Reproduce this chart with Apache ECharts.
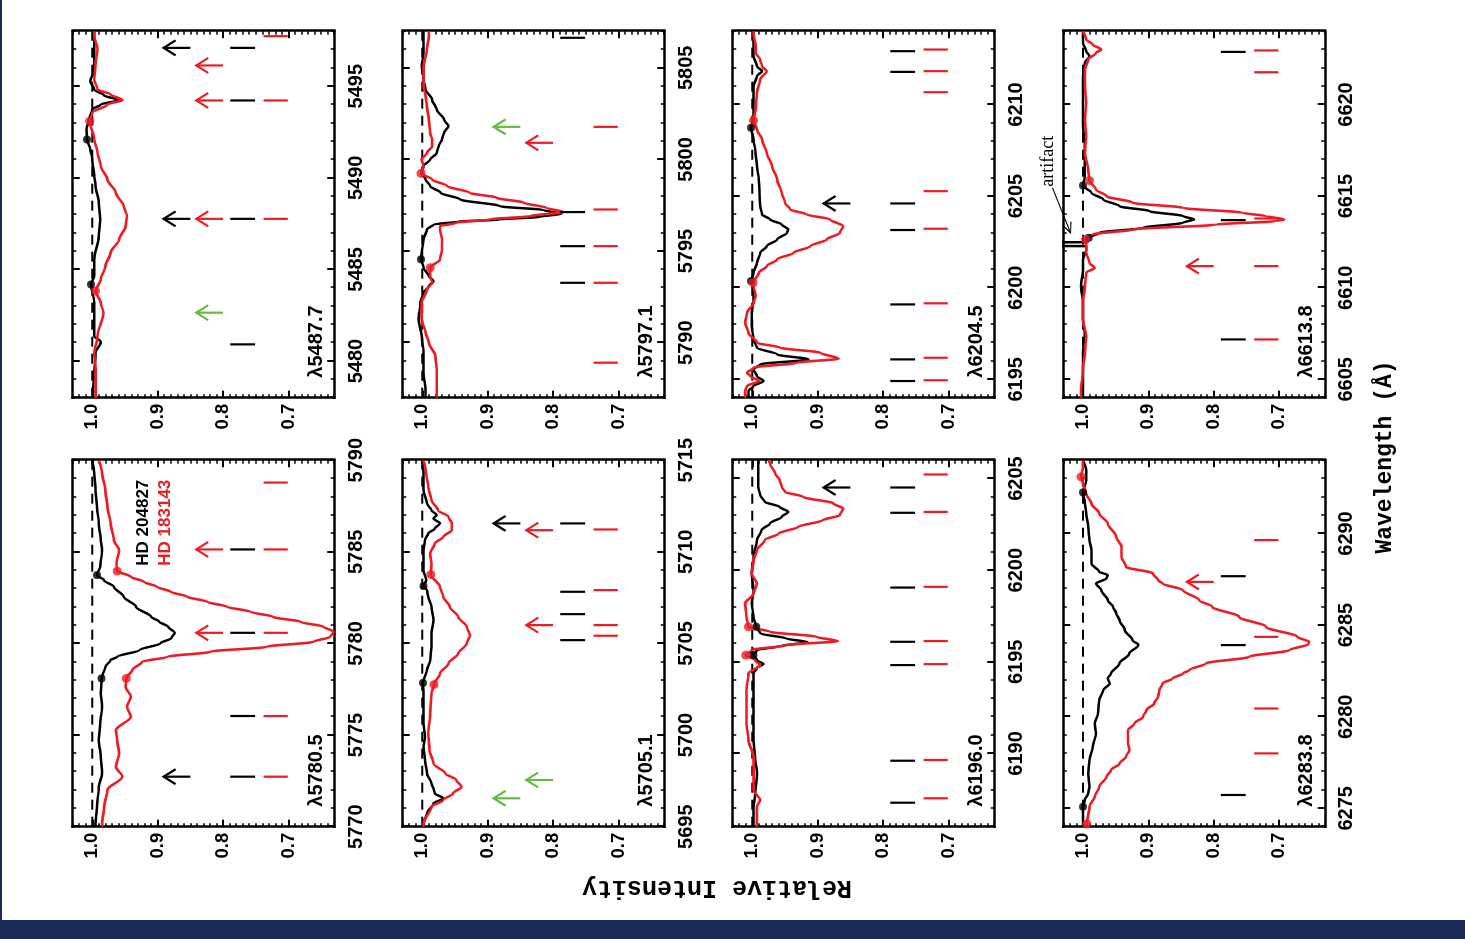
<!DOCTYPE html>
<html>
<head>
<meta charset="utf-8">
<script src="https://cdn.jsdelivr.net/npm/echarts@6/dist/echarts.min.js"></script>
<style>
  html, body { margin: 0; padding: 0; width: 1465px; height: 939px; overflow: hidden; background: #1b2a56; }
  #sheet { position: absolute; left: 2px; top: 0; width: 1463px; height: 920px; background: #fff; }
  /* the figure is laid out portrait and turned a quarter turn counter-clockwise */
  #chart { position: absolute; left: 0; top: 0; width: 920px; height: 1465px;
           transform-origin: 0 0; transform: translateY(920px) rotate(-90deg); }
</style>
</head>
<body>
<div id="sheet"></div>
<div id="chart"></div>
<script>
// ---------------- data ----------------
const STAR_A = 'HD 204827';
const STAR_B = 'HD 183143';
const CONTINUUM = 1.0;
const intensityRange = [0.63, 1.03];
const intensityTicks = [0.7, 0.8, 0.9, 1.0];

// λ5780.5
const range5780 = [5770, 5790];
const ticks5780 = [5770, 5775, 5780, 5785, 5790];
const spec5780Black = [[5770.0,0.995],[5770.18,0.995],[5771.09,0.993],[5772.18,0.990],[5772.91,0.985],[5773.82,0.987],[5774.73,0.990],[5775.64,0.988],[5776.55,0.985],[5777.27,0.987],[5778.09,0.986],[5778.73,0.980],[5779.09,0.972],[5779.27,0.962],[5779.64,0.928],[5780.0,0.896],[5780.3,0.879],[5780.58,0.874],[5780.91,0.884],[5781.2,0.898],[5781.45,0.910],[5782.0,0.933],[5782.55,0.952],[5783.09,0.967],[5783.45,0.982],[5783.73,0.993],[5784.18,0.988],[5785.09,0.985],[5785.64,0.987],[5786.55,0.990],[5787.45,0.993],[5788.36,0.995],[5789.27,0.997],[5790.0,1.000]];
const spec5780Red = [[5770.0,0.985],[5770.18,0.985],[5771.09,0.982],[5772.0,0.977],[5772.73,0.954],[5773.27,0.964],[5774.0,0.959],[5774.73,0.962],[5775.27,0.964],[5776.0,0.941],[5776.55,0.947],[5777.09,0.941],[5777.64,0.949],[5778.09,0.948],[5778.55,0.939],[5779.0,0.924],[5779.27,0.885],[5779.55,0.819],[5779.82,0.733],[5780.09,0.662],[5780.36,0.636],[5780.64,0.631],[5780.91,0.646],[5781.18,0.682],[5781.45,0.723],[5781.73,0.758],[5782.0,0.794],[5782.27,0.824],[5782.55,0.855],[5782.82,0.880],[5783.09,0.901],[5783.36,0.921],[5783.64,0.941],[5783.95,0.962],[5784.36,0.963],[5785.09,0.959],[5785.64,0.967],[5786.55,0.972],[5787.45,0.977],[5788.36,0.980],[5789.27,0.985],[5790.0,0.990]];
const dots5780Black = [[5778.09,0.986],[5783.73,0.993]];
const dots5780Red = [[5778.09,0.948],[5783.95,0.962]];
const lines5780Black = [5772.73, 5776.04, 5780.58, 5785.13];
const lines5780Red = [5772.73, 5776.04, 5780.58, 5785.13, 5788.78];
const arrows5780Black = [[5772.73,0.891]];
const arrows5780Red = [[5780.58,0.841],[5785.13,0.841]];
const arrows5780Green = [];

// λ5487.7
const range5487 = [5478, 5498];
const ticks5487 = [5480, 5485, 5490, 5495];
const spec5487Black = [[5478.0,0.999],[5478.45,0.999],[5479.36,0.997],[5480.45,0.995],[5481.04,0.987],[5481.36,0.997],[5482.27,0.997],[5483.18,0.997],[5484.18,1.002],[5484.64,0.997],[5485.55,0.997],[5486.82,0.990],[5487.73,0.988],[5488.64,0.990],[5489.55,0.995],[5490.09,0.997],[5491.0,1.000],[5491.55,1.003],[5492.09,1.008],[5492.64,1.009],[5493.18,1.005],[5493.73,1.000],[5494.0,0.987],[5494.24,0.959],[5494.49,0.982],[5494.82,0.997],[5495.27,1.003],[5495.91,0.997],[5496.82,0.997],[5497.82,0.997],[5498.0,0.997]];
const spec5487Red = [[5478.0,0.995],[5478.45,0.995],[5479.55,0.995],[5480.45,0.997],[5481.36,0.992],[5482.64,0.983],[5483.18,0.987],[5483.82,0.995],[5484.45,0.987],[5485.18,0.980],[5485.91,0.972],[5486.64,0.959],[5487.36,0.949],[5487.91,0.947],[5488.45,0.952],[5489.18,0.964],[5489.91,0.977],[5490.64,0.987],[5491.36,0.992],[5492.09,0.997],[5493.09,1.004],[5493.55,1.000],[5494.0,0.977],[5494.24,0.954],[5494.55,0.972],[5494.82,0.992],[5495.36,0.997],[5496.27,0.995],[5497.0,0.992],[5497.73,0.997],[5498.0,0.997]];
const dots5487Black = [[5484.18,1.002],[5492.09,1.008]];
const dots5487Red = [[5483.82,0.995],[5493.09,1.004]];
const lines5487Black = [5480.91, 5487.76, 5494.22, 5497.09];
const lines5487Red = [5487.76, 5494.22, 5497.73];
const arrows5487Black = [[5487.76,0.891],[5497.09,0.891]];
const arrows5487Red = [[5487.76,0.841],[5494.22,0.841],[5496.13,0.841]];
const arrows5487Green = [[5482.64,0.841]];

// λ5705.1
const range5705 = [5695, 5715];
const ticks5705 = [5695, 5700, 5705, 5710, 5715];
const spec5705Black = [[5695.0,0.999],[5695.18,0.998],[5695.73,0.993],[5696.27,0.983],[5696.55,0.968],[5696.82,0.981],[5697.09,0.983],[5697.36,0.986],[5697.91,0.993],[5698.64,0.996],[5699.36,0.998],[5699.91,0.996],[5700.64,0.998],[5701.55,0.998],[5702.27,0.998],[5702.85,0.999],[5703.55,0.993],[5704.09,0.988],[5704.82,0.986],[5705.55,0.986],[5706.27,0.983],[5707.0,0.986],[5707.55,0.991],[5707.91,0.993],[5708.13,0.998],[5708.45,0.994],[5709.0,0.998],[5710.09,0.998],[5710.64,0.996],[5711.0,0.991],[5711.27,0.981],[5711.55,0.973],[5711.82,0.983],[5712.0,0.978],[5712.27,0.986],[5712.64,0.993],[5713.36,0.998],[5714.27,0.998],[5715.0,1.000]];
const spec5705Red = [[5695.0,0.999],[5695.18,0.998],[5696.09,0.986],[5696.45,0.968],[5696.82,0.953],[5697.18,0.940],[5697.55,0.948],[5697.91,0.965],[5698.45,0.983],[5699.18,0.989],[5700.09,0.991],[5701.18,0.988],[5702.27,0.986],[5702.76,0.982],[5703.36,0.973],[5703.91,0.960],[5704.45,0.945],[5705.0,0.932],[5705.45,0.927],[5705.91,0.932],[5706.45,0.945],[5707.0,0.958],[5707.55,0.968],[5708.09,0.973],[5708.76,0.987],[5709.36,0.986],[5709.91,0.988],[5710.45,0.981],[5710.82,0.968],[5711.18,0.955],[5711.55,0.955],[5711.91,0.960],[5712.27,0.976],[5712.82,0.986],[5713.55,0.991],[5714.27,0.994],[5715.0,0.998]];
const dots5705Black = [[5702.85,0.999],[5708.13,0.998]];
const dots5705Red = [[5702.76,0.982],[5708.76,0.987]];
const lines5705Black = [5705.18, 5706.6, 5707.82, 5711.55];
const lines5705Red = [5705.42, 5706.0, 5707.91, 5711.22];
const arrows5705Black = [[5711.55,0.891]];
const arrows5705Red = [[5706.0,0.841],[5711.18,0.841]];
const arrows5705Green = [[5696.55,0.891],[5697.55,0.841]];

// λ5797.1
const range5797 = [5787, 5807];
const ticks5797 = [5790, 5795, 5800, 5805];
const spec5797Black = [[5787.0,0.995],[5787.45,0.995],[5788.36,0.998],[5789.45,0.998],[5790.36,1.001],[5791.27,1.006],[5792.18,1.003],[5792.73,0.998],[5793.09,0.990],[5793.36,0.983],[5793.64,0.990],[5794.09,0.998],[5794.55,1.002],[5794.91,1.001],[5795.64,0.998],[5796.18,0.993],[5796.45,0.983],[5796.6,0.947],[5796.73,0.881],[5796.87,0.820],[5797.04,0.787],[5797.24,0.815],[5797.45,0.881],[5797.82,0.942],[5798.18,0.972],[5798.55,0.988],[5798.91,0.995],[5799.27,1.002],[5799.64,0.998],[5800.0,0.988],[5800.36,0.978],[5800.73,0.975],[5801.09,0.970],[5801.45,0.967],[5801.82,0.960],[5802.18,0.967],[5802.73,0.978],[5803.27,0.985],[5803.82,0.995],[5804.36,0.998],[5805.09,1.001],[5805.82,0.998],[5806.73,0.998],[5807.0,0.998]];
const spec5797Red = [[5787.0,0.978],[5787.45,0.978],[5788.55,0.978],[5789.27,0.980],[5790.0,0.990],[5790.55,0.995],[5791.27,1.001],[5792.18,1.001],[5792.91,0.993],[5793.27,0.985],[5793.64,0.988],[5794.09,0.988],[5794.55,0.973],[5795.09,0.970],[5795.64,0.970],[5796.18,0.973],[5796.36,0.973],[5796.55,0.947],[5796.73,0.896],[5796.91,0.835],[5797.13,0.784],[5797.36,0.810],[5797.64,0.845],[5797.91,0.886],[5798.18,0.927],[5798.55,0.962],[5798.91,0.985],[5799.24,1.002],[5799.64,0.998],[5800.0,1.001],[5800.36,0.993],[5800.73,0.985],[5801.09,0.985],[5801.45,0.988],[5802.18,0.990],[5802.91,0.993],[5803.45,0.995],[5804.0,0.998],[5805.09,0.998],[5806.0,0.993],[5806.73,0.990],[5807.0,0.990]];
const dots5797Black = [[5794.55,1.002]];
const dots5797Red = [[5794.09,0.988],[5799.24,1.002]];
const lines5797Black = [5793.27, 5795.27, 5797.13, 5806.64];
const lines5797Red = [5788.91, 5793.27, 5795.27, 5797.27, 5801.78];
const arrows5797Black = [];
const arrows5797Red = [[5800.91,0.841]];
const arrows5797Green = [[5801.78,0.891]];

// λ6196.0
const range6196 = [6186, 6206];
const ticks6196 = [6190, 6195, 6200, 6205];
const spec6196Black = [[6186.0,0.998],[6186.36,0.998],[6187.09,0.998],[6187.64,0.996],[6188.91,0.993],[6189.82,0.996],[6190.73,0.998],[6191.64,0.998],[6192.55,0.998],[6193.45,0.998],[6194.36,0.998],[6194.67,0.993],[6194.87,0.983],[6195.09,0.993],[6195.36,0.998],[6195.64,0.993],[6195.85,0.958],[6196.07,0.915],[6196.27,0.948],[6196.55,0.988],[6196.91,0.994],[6197.45,0.998],[6198.18,1.001],[6198.91,0.998],[6199.82,1.001],[6200.73,0.998],[6201.64,0.993],[6202.18,0.986],[6202.55,0.973],[6202.91,0.955],[6203.18,0.945],[6203.45,0.958],[6203.73,0.981],[6204.09,0.988],[6204.55,0.991],[6205.09,0.991],[6205.82,0.991],[6206.0,0.991]];
const spec6196Red = [[6186.0,0.993],[6186.36,0.993],[6187.09,0.993],[6187.45,0.988],[6188.0,0.998],[6188.91,0.998],[6189.82,0.998],[6190.73,1.006],[6191.64,1.009],[6192.55,1.009],[6193.45,1.009],[6194.36,1.006],[6194.82,0.988],[6195.09,0.996],[6195.36,1.010],[6195.64,1.001],[6195.91,0.948],[6196.13,0.869],[6196.36,0.902],[6196.64,0.973],[6196.91,1.006],[6197.45,1.009],[6198.18,1.011],[6198.73,0.998],[6199.27,0.993],[6199.82,1.001],[6200.55,0.998],[6201.09,0.993],[6201.64,0.981],[6202.0,0.960],[6202.36,0.930],[6202.73,0.892],[6203.0,0.866],[6203.36,0.861],[6203.64,0.876],[6204.0,0.922],[6204.27,0.950],[6204.55,0.955],[6204.91,0.958],[6205.27,0.965],[6205.82,0.973],[6206.0,0.975]];
const dots6196Black = [[6195.36,0.998],[6196.91,0.994]];
const dots6196Red = [[6195.36,1.010],[6196.91,1.006]];
const lines6196Black = [6187.31, 6189.6, 6194.82, 6196.09, 6199.05, 6203.13, 6204.51];
const lines6196Red = [6187.55, 6189.64, 6194.87, 6196.13, 6199.09, 6203.18, 6205.22];
const arrows6196Black = [[6204.51,0.891]];
const arrows6196Red = [];
const arrows6196Green = [];

// λ6204.5
const range6204 = [6194, 6214];
const ticks6204 = [6195, 6200, 6205, 6210];
const spec6204Black = [[6194.0,1.006],[6194.36,1.006],[6194.64,0.998],[6194.91,0.983],[6195.18,0.993],[6195.55,0.998],[6195.82,0.988],[6196.09,0.914],[6196.36,0.962],[6196.73,0.993],[6197.18,0.998],[6197.91,1.001],[6198.64,1.001],[6199.36,0.998],[6200.09,0.998],[6200.36,1.002],[6200.82,0.998],[6201.36,0.993],[6201.91,0.988],[6202.27,0.978],[6202.64,0.962],[6203.0,0.947],[6203.18,0.945],[6203.45,0.955],[6203.73,0.973],[6204.0,0.985],[6204.45,0.988],[6205.18,0.989],[6205.91,0.990],[6206.64,0.993],[6207.36,0.995],[6208.09,0.998],[6208.73,1.002],[6209.18,0.998],[6210.09,0.998],[6211.0,0.998],[6211.55,0.993],[6211.82,0.985],[6212.09,0.993],[6212.64,0.998],[6213.18,0.998],[6213.82,0.998],[6214.0,0.998]];
const spec6204Red = [[6194.0,1.011],[6194.36,1.011],[6194.64,1.008],[6194.91,0.990],[6195.18,1.003],[6195.36,1.008],[6195.64,0.998],[6195.91,0.932],[6196.13,0.868],[6196.45,0.896],[6196.73,0.957],[6197.0,0.993],[6197.55,1.006],[6198.09,1.011],[6198.64,1.008],[6199.18,0.998],[6199.55,0.995],[6200.27,0.999],[6200.82,0.990],[6201.18,0.978],[6201.55,0.962],[6201.91,0.937],[6202.27,0.911],[6202.64,0.886],[6203.0,0.866],[6203.36,0.861],[6203.73,0.881],[6204.0,0.917],[6204.27,0.942],[6204.64,0.950],[6205.18,0.955],[6205.91,0.962],[6206.64,0.970],[6207.36,0.978],[6208.09,0.985],[6208.64,0.993],[6209.13,0.998],[6209.73,0.995],[6210.64,0.993],[6211.36,0.988],[6211.82,0.978],[6212.09,0.985],[6212.45,0.988],[6212.82,0.995],[6213.27,0.995],[6213.82,0.998],[6214.0,0.998]];
const dots6204Black = [[6200.36,1.002],[6208.73,1.002]];
const dots6204Red = [[6200.27,0.999],[6209.13,0.998]];
const lines6204Black = [6194.91, 6196.09, 6199.09, 6203.15, 6204.6, 6211.78, 6212.91];
const lines6204Red = [6194.95, 6196.18, 6199.15, 6203.22, 6205.27, 6210.67, 6211.82, 6213.0];
const arrows6204Black = [[6204.6,0.891]];
const arrows6204Red = [];
const arrows6204Green = [];

// λ6283.8
const range6283 = [6274, 6294];
const ticks6283 = [6275, 6280, 6285, 6290];
const spec6283Black = [[6274.0,1.000],[6274.18,1.000],[6275.09,1.000],[6275.45,0.997],[6275.82,0.992],[6276.18,0.990],[6276.91,0.992],[6277.64,0.990],[6278.36,0.985],[6279.09,0.980],[6279.64,0.982],[6280.18,0.977],[6280.91,0.975],[6281.45,0.969],[6281.82,0.959],[6282.09,0.962],[6282.36,0.957],[6282.91,0.944],[6283.45,0.929],[6283.91,0.915],[6284.18,0.924],[6284.73,0.936],[6285.27,0.944],[6285.64,0.949],[6286.0,0.954],[6286.36,0.962],[6286.91,0.972],[6287.27,0.980],[6287.55,0.964],[6287.73,0.962],[6287.91,0.975],[6288.36,0.987],[6289.09,0.987],[6289.64,0.990],[6290.36,0.992],[6291.09,0.995],[6291.73,0.997],[6292.24,1.000],[6292.91,0.995],[6293.45,0.995],[6294.0,1.000]];
const spec6283Red = [[6274.0,0.994],[6274.15,0.994],[6275.09,0.990],[6275.64,0.982],[6276.18,0.975],[6276.73,0.964],[6277.09,0.957],[6277.45,0.944],[6277.82,0.934],[6278.18,0.929],[6278.55,0.931],[6278.91,0.931],[6279.27,0.931],[6279.64,0.921],[6280.0,0.908],[6280.36,0.903],[6280.73,0.891],[6281.09,0.885],[6281.45,0.883],[6281.82,0.878],[6282.09,0.863],[6282.36,0.847],[6282.55,0.837],[6282.91,0.812],[6283.27,0.746],[6283.64,0.684],[6283.96,0.655],[6284.09,0.654],[6284.36,0.672],[6284.91,0.720],[6285.45,0.761],[6286.0,0.802],[6286.36,0.822],[6286.91,0.847],[6287.27,0.878],[6287.45,0.885],[6287.82,0.893],[6288.18,0.934],[6288.73,0.941],[6289.27,0.941],[6289.82,0.949],[6290.55,0.962],[6291.09,0.975],[6291.64,0.987],[6292.18,0.995],[6292.73,1.000],[6293.09,1.003],[6293.64,1.000],[6294.0,1.000]];
const dots6283Black = [[6275.09,1.000],[6292.24,1.000]];
const dots6283Red = [[6274.15,0.994],[6293.09,1.003]];
const lines6283Black = [6275.73, 6283.91, 6287.67];
const lines6283Red = [6278.0, 6280.45, 6284.36, 6289.64];
const arrows6283Black = [];
const arrows6283Red = [[6287.36,0.841]];
const arrows6283Green = [];

// λ6613.8 (the spike near 6612.4 Å is a reduction artifact)
const range6613 = [6604, 6624];
const ticks6613 = [6605, 6610, 6615, 6620];
const spec6613Black = [[6604.0,1.000],[6604.36,1.000],[6605.55,1.000],[6606.45,1.000],[6607.36,0.997],[6608.27,1.000],[6609.18,1.000],[6610.09,1.003],[6611.0,1.000],[6611.55,1.000],[6612.09,0.995],[6612.27,0.995],[6612.29,1.100],[6612.47,1.100],[6612.49,0.993],[6612.73,0.991],[6613.0,0.975],[6613.27,0.908],[6613.55,0.847],[6613.73,0.830],[6613.91,0.847],[6614.18,0.898],[6614.45,0.944],[6614.82,0.969],[6615.18,0.987],[6615.58,1.000],[6616.09,0.997],[6617.0,0.997],[6617.91,0.997],[6618.82,1.000],[6619.73,1.000],[6620.64,1.000],[6621.55,1.000],[6622.27,0.997],[6622.64,0.990],[6622.91,0.995],[6623.36,1.000],[6624.0,1.000]];
const spec6613Red = [[6604.0,1.003],[6604.36,1.003],[6605.55,1.000],[6606.45,0.997],[6607.36,0.995],[6608.27,1.000],[6609.18,1.000],[6610.09,0.997],[6610.82,0.995],[6611.09,0.982],[6611.36,0.990],[6611.91,0.995],[6612.27,0.995],[6612.64,0.996],[6612.91,0.985],[6613.18,0.924],[6613.45,0.796],[6613.64,0.705],[6613.73,0.692],[6613.91,0.720],[6614.09,0.756],[6614.36,0.847],[6614.64,0.924],[6615.0,0.964],[6615.36,0.980],[6615.85,0.990],[6616.45,0.992],[6617.36,0.997],[6618.27,0.995],[6619.18,0.997],[6620.09,0.995],[6621.0,0.997],[6621.91,0.997],[6622.45,0.992],[6622.82,0.980],[6623.0,0.972],[6623.27,0.985],[6623.55,0.995],[6624.0,1.000]];
const dots6613Black = [[6612.73,0.991],[6615.58,1.000]];
const dots6613Red = [[6612.64,0.996],[6615.85,0.990]];
const lines6613Black = [6607.18, 6613.69, 6622.87];
const lines6613Red = [6607.18, 6611.18, 6613.78, 6621.76, 6622.95];
const arrows6613Black = [];
const arrows6613Red = [[6611.18,0.841]];
const arrows6613Green = [];
const artifactTip = [6613.0, 1.019];

// ---------------- layout & style ----------------
const COL_LEFT = [93.3, 522.3];
const COL_WIDTH = 366.5;
const ROW_TOP = [72.7, 402.7, 732.7, 1063.3];
const ROW_HEIGHT = 261.5;
const BLACK = '#000000';
const RED = '#ec1c24';
const GREEN = '#66bb44';
const TICK_ROW_BLACK = [0.751, 0.789];
const TICK_ROW_RED = [0.701, 0.738];
const ARROW_LEN = 0.041;
const LABEL_FONT = "'Liberation Sans', Arial, sans-serif";
const TITLE_FONT = "'Liberation Mono', 'DejaVu Sans Mono', monospace";

const panels = [
  { name: 'λ5780.5', col: 0, row: 0, range: range5780, ticks: ticks5780, black: spec5780Black, red: spec5780Red,
    dotsBlack: dots5780Black, dotsRed: dots5780Red, linesBlack: lines5780Black, linesRed: lines5780Red,
    arrowsBlack: arrows5780Black, arrowsRed: arrows5780Red, arrowsGreen: arrows5780Green },
  { name: 'λ5487.7', col: 1, row: 0, range: range5487, ticks: ticks5487, black: spec5487Black, red: spec5487Red,
    dotsBlack: dots5487Black, dotsRed: dots5487Red, linesBlack: lines5487Black, linesRed: lines5487Red,
    arrowsBlack: arrows5487Black, arrowsRed: arrows5487Red, arrowsGreen: arrows5487Green },
  { name: 'λ5705.1', col: 0, row: 1, range: range5705, ticks: ticks5705, black: spec5705Black, red: spec5705Red,
    dotsBlack: dots5705Black, dotsRed: dots5705Red, linesBlack: lines5705Black, linesRed: lines5705Red,
    arrowsBlack: arrows5705Black, arrowsRed: arrows5705Red, arrowsGreen: arrows5705Green },
  { name: 'λ5797.1', col: 1, row: 1, range: range5797, ticks: ticks5797, black: spec5797Black, red: spec5797Red,
    dotsBlack: dots5797Black, dotsRed: dots5797Red, linesBlack: lines5797Black, linesRed: lines5797Red,
    arrowsBlack: arrows5797Black, arrowsRed: arrows5797Red, arrowsGreen: arrows5797Green },
  { name: 'λ6196.0', col: 0, row: 2, range: range6196, ticks: ticks6196, black: spec6196Black, red: spec6196Red,
    dotsBlack: dots6196Black, dotsRed: dots6196Red, linesBlack: lines6196Black, linesRed: lines6196Red,
    arrowsBlack: arrows6196Black, arrowsRed: arrows6196Red, arrowsGreen: arrows6196Green },
  { name: 'λ6204.5', col: 1, row: 2, range: range6204, ticks: ticks6204, black: spec6204Black, red: spec6204Red,
    dotsBlack: dots6204Black, dotsRed: dots6204Red, linesBlack: lines6204Black, linesRed: lines6204Red,
    arrowsBlack: arrows6204Black, arrowsRed: arrows6204Red, arrowsGreen: arrows6204Green },
  { name: 'λ6283.8', col: 0, row: 3, range: range6283, ticks: ticks6283, black: spec6283Black, red: spec6283Red,
    dotsBlack: dots6283Black, dotsRed: dots6283Red, linesBlack: lines6283Black, linesRed: lines6283Red,
    arrowsBlack: arrows6283Black, arrowsRed: arrows6283Red, arrowsGreen: arrows6283Green },
  { name: 'λ6613.8', col: 1, row: 3, range: range6613, ticks: ticks6613, black: spec6613Black, red: spec6613Red,
    dotsBlack: dots6613Black, dotsRed: dots6613Red, linesBlack: lines6613Black, linesRed: lines6613Red,
    arrowsBlack: arrows6613Black, arrowsRed: arrows6613Red, arrowsGreen: arrows6613Green }
];

// ---------------- option building ----------------
const frameLine = { show: true, onZero: false, lineStyle: { color: BLACK, width: 2.5, cap: 'square' } };
const noLine = { show: false, onZero: false };
const majorTick = (values) => ({ show: true, inside: true, length: 7, customValues: values, lineStyle: { color: BLACK, width: 2 } });
const minorTick = (values) => ({ show: true, inside: true, length: 3.5, customValues: values, lineStyle: { color: BLACK, width: 1.5 } });
const noLabel = { show: false };

const minorIntensity = [];
for (let k = Math.ceil(intensityRange[0] * 100); k <= Math.floor(intensityRange[1] * 100); k++) minorIntensity.push(k / 100);

function segmentItem(color) {
  return function (params, api) {
    const a = api.coord([api.value(0), api.value(2)]);
    const b = api.coord([api.value(0), api.value(1)]);
    return { type: 'line', shape: { x1: a[0], y1: a[1], x2: b[0], y2: b[1] },
             style: { stroke: color, lineWidth: 2.2 } };
  };
}
function arrowItem(color) {
  return function (params, api) {
    const x = api.value(0), tip = api.value(1);
    const t = api.coord([x, tip]);
    const s = api.coord([x, tip - ARROW_LEN]);
    return { type: 'group', children: [
      { type: 'line', shape: { x1: s[0], y1: s[1], x2: t[0], y2: t[1] }, style: { stroke: color, lineWidth: 2.2 } },
      { type: 'polyline', shape: { points: [[t[0] - 7.5, t[1] + 12], [t[0], t[1]], [t[0] + 7.5, t[1] + 12]] },
        style: { stroke: color, lineWidth: 2.2, fill: null } }
    ] };
  };
}

const grid = [], xAxis = [], yAxis = [], series = [], graphic = [];

panels.forEach((p, g) => {
  const left = COL_LEFT[p.col], top = ROW_TOP[p.row];
  grid.push({ left: left, top: top, width: COL_WIDTH, height: ROW_HEIGHT });

  const minorWave = [];
  for (let v = Math.ceil(p.range[0]); v <= p.range[1]; v++) minorWave.push(v);

  const bx = { gridIndex: g, type: 'value', min: p.range[0], max: p.range[1], splitLine: { show: false } };
  xAxis.push(
    Object.assign({}, bx, { position: 'bottom', axisLine: frameLine, axisTick: majorTick(p.ticks),
      axisLabel: { show: true, customValues: p.ticks, margin: 12, color: BLACK, fontFamily: LABEL_FONT,
                   fontWeight: 'bold', fontSize: 20, formatter: (v) => String(Math.round(v)) } }),
    Object.assign({}, bx, { position: 'bottom', axisLine: noLine, axisTick: minorTick(minorWave), axisLabel: noLabel }),
    Object.assign({}, bx, { position: 'top', axisLine: frameLine, axisTick: majorTick(p.ticks), axisLabel: noLabel }),
    Object.assign({}, bx, { position: 'top', axisLine: noLine, axisTick: minorTick(minorWave), axisLabel: noLabel })
  );

  const by = { gridIndex: g, type: 'value', min: intensityRange[0], max: intensityRange[1], splitLine: { show: false } };
  yAxis.push(
    Object.assign({}, by, { position: 'left', axisLine: frameLine, axisTick: majorTick(intensityTicks),
      axisLabel: { show: true, customValues: intensityTicks, margin: 6, color: BLACK, fontFamily: LABEL_FONT,
                   fontWeight: 'bold', fontSize: 18.5, formatter: (v) => Number(v).toFixed(1) } }),
    Object.assign({}, by, { position: 'left', axisLine: noLine, axisTick: minorTick(minorIntensity), axisLabel: noLabel }),
    Object.assign({}, by, { position: 'right', axisLine: frameLine, axisTick: majorTick(intensityTicks), axisLabel: noLabel }),
    Object.assign({}, by, { position: 'right', axisLine: noLine, axisTick: minorTick(minorIntensity), axisLabel: noLabel })
  );

  const ax = { xAxisIndex: 4 * g, yAxisIndex: 4 * g };

  // continuum level
  series.push(Object.assign({ type: 'line', silent: true, symbol: 'none', z: 1,
    data: [[p.range[0], CONTINUUM], [p.range[1], CONTINUUM]],
    lineStyle: { color: BLACK, width: 2, type: [10, 7] } }, ax));

  // spectra
  series.push(Object.assign({ name: STAR_A, type: 'line', silent: true, symbol: 'none', z: 3,
    smooth: 0.3, smoothMonotone: 'x', data: p.black,
    lineStyle: { color: BLACK, width: 2.5 } }, ax));
  series.push(Object.assign({ name: STAR_B, type: 'line', silent: true, symbol: 'none', z: 3,
    smooth: 0.3, smoothMonotone: 'x', data: p.red,
    lineStyle: { color: RED, width: 2.6 } }, ax));

  // continuum anchor points
  series.push(Object.assign({ type: 'scatter', silent: true, symbol: 'circle', symbolSize: 8, z: 4,
    data: p.dotsBlack, itemStyle: { color: BLACK } }, ax));
  series.push(Object.assign({ type: 'scatter', silent: true, symbol: 'circle', symbolSize: 9, z: 5,
    data: p.dotsRed, itemStyle: { color: RED } }, ax));

  // stellar line markers
  series.push(Object.assign({ type: 'custom', silent: true, clip: false, z: 4, renderItem: segmentItem(BLACK),
    data: p.linesBlack.map((w) => [w, TICK_ROW_BLACK[0], TICK_ROW_BLACK[1]]) }, ax));
  series.push(Object.assign({ type: 'custom', silent: true, clip: false, z: 4, renderItem: segmentItem(RED),
    data: p.linesRed.map((w) => [w, TICK_ROW_RED[0], TICK_ROW_RED[1]]) }, ax));

  // DIB arrows
  [[p.arrowsBlack, BLACK], [p.arrowsRed, RED], [p.arrowsGreen, GREEN]].forEach(([arr, col]) => {
    if (!arr.length) return;
    series.push(Object.assign({ type: 'custom', silent: true, clip: false, z: 4, renderItem: arrowItem(col),
      data: arr }, ax));
  });

  // panel label
  graphic.push({ id: 'label' + g, type: 'text', x: left + 20, y: top + ROW_HEIGHT - 8, silent: true,
    style: { text: p.name, fill: BLACK, font: "bold 20px " + LABEL_FONT, align: 'left', verticalAlign: 'bottom' } });
});

// star names
graphic.push(
  { id: 'starA', type: 'text', x: COL_LEFT[0] + 347, y: ROW_TOP[0] + 71, silent: true,
    style: { text: STAR_A, fill: BLACK, font: "bold 17px " + LABEL_FONT, align: 'right', verticalAlign: 'middle' } },
  { id: 'starB', type: 'text', x: COL_LEFT[0] + 347, y: ROW_TOP[0] + 93, silent: true,
    style: { text: STAR_B, fill: RED, font: "bold 17px " + LABEL_FONT, align: 'right', verticalAlign: 'middle' } }
);

// axis titles
graphic.push(
  { id: 'ytitle', type: 'text', x: 33, y: 717, rotation: Math.PI / 2, silent: true,
    style: { text: 'Relative Intensity', fill: BLACK, font: "bold 25px " + TITLE_FONT, align: 'center', verticalAlign: 'middle' } },
  { id: 'xtitle', type: 'text', x: 463, y: 1385, silent: true,
    style: { text: 'Wavelength (Å)', fill: BLACK, font: "bold 23px " + TITLE_FONT, align: 'center', verticalAlign: 'middle' } }
);

const chart = echarts.init(document.getElementById('chart'), null, { renderer: 'canvas' });
chart.setOption({
  animation: false,
  backgroundColor: 'transparent',
  grid: grid,
  xAxis: xAxis,
  yAxis: yAxis,
  series: series,
  graphic: { elements: graphic }
});

// annotation pointing at the artifact in the last panel
const tip = chart.convertToPixel({ gridIndex: 7 }, artifactTip);
const start = [tip[0] + 45, tip[1] - 18];
const dx = tip[0] - start[0], dy = tip[1] - start[1];
const len = Math.hypot(dx, dy), ux = dx / len, uy = dy / len;
const wing = (ang) => {
  const c = Math.cos(ang), s = Math.sin(ang);
  const bx = -ux, by = -uy;
  return [tip[0] + 11 * (bx * c - by * s), tip[1] + 11 * (bx * s + by * c)];
};
chart.setOption({
  graphic: { elements: [
    { id: 'artifactLine', type: 'line', silent: true,
      shape: { x1: start[0], y1: start[1], x2: tip[0], y2: tip[1] }, style: { stroke: BLACK, lineWidth: 1.2 } },
    { id: 'artifactHead', type: 'polyline', silent: true,
      shape: { points: [wing(0.42), tip, wing(-0.42)] }, style: { stroke: BLACK, lineWidth: 1.2, fill: null } },
    { id: 'artifactText', type: 'text', x: start[0] + 1, y: start[1] - 4, silent: true,
      style: { text: 'artifact', fill: BLACK, font: "18px 'Liberation Serif', 'Times New Roman', serif",
               align: 'left', verticalAlign: 'middle' } }
  ] }
});
</script>
</body>
</html>
